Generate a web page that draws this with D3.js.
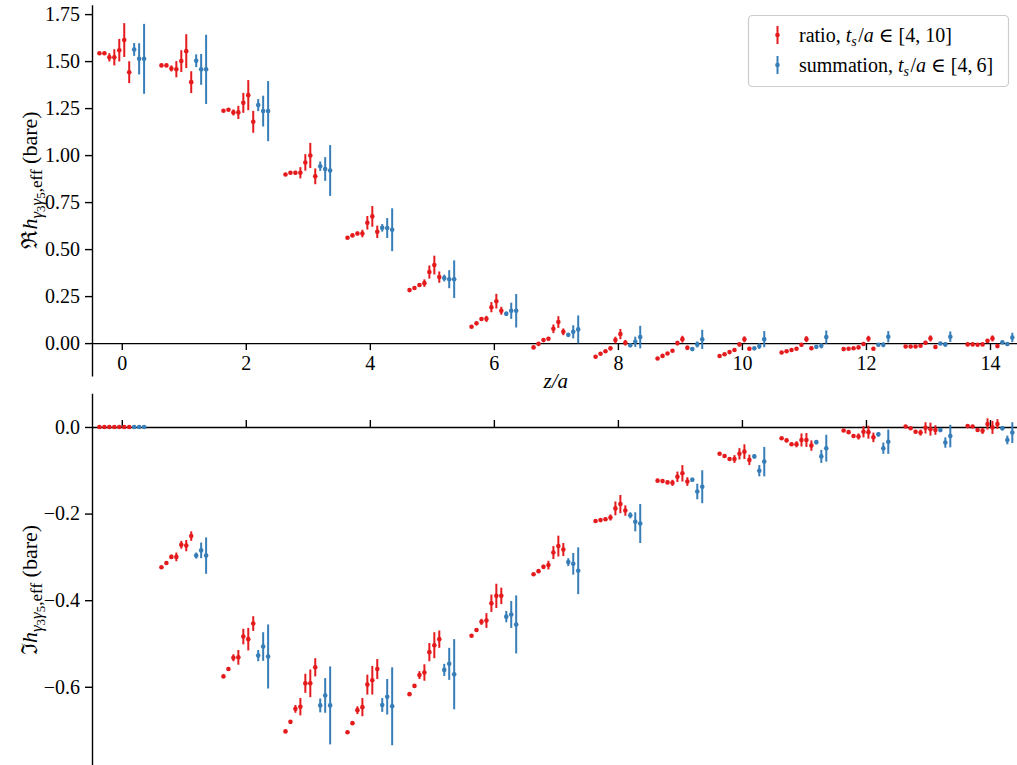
<!DOCTYPE html>
<html><head><meta charset="utf-8">
<script src="https://cdn.jsdelivr.net/npm/d3@7"></script>
<style>
body{margin:0;background:#fff}
text{font-family:"Liberation Serif","DejaVu Serif",serif;fill:#000}
</style>
</head><body>
<svg id="chart" width="1017" height="765"></svg>
<script>
// ---- data ----
const zValues = [0,1,2,3,4,5,6,7,8,9,10,11,12,13,14];
const ratioTs = [4,5,6,7,8,9,10];
const summationTs = [4,5,6];
const xTicks = [0,2,4,6,8,10,12,14];
const reTicks = [0,0.25,0.5,0.75,1.0,1.25,1.5,1.75];
const imTicks = [0,-0.2,-0.4,-0.6];

const reRatio = [
 [1.542,1.542,1.520,1.520,1.558,1.612,1.441],
 [1.477,1.477,1.461,1.457,1.500,1.553,1.388],
 [1.236,1.241,1.227,1.227,1.278,1.319,1.177],
 [0.897,0.906,0.906,0.906,0.961,0.998,0.887],
 [0.560,0.573,0.583,0.583,0.640,0.674,0.592],
 [0.282,0.293,0.309,0.319,0.378,0.415,0.351],
 [0.087,0.105,0.128,0.129,0.191,0.223,0.172],
 [-0.023,-0.004,0.016,0.023,0.076,0.112,0.060],
 [-0.073,-0.057,-0.043,-0.028,0.016,0.048,0.002],
 [-0.082,-0.068,-0.055,-0.041,0.000,0.021,-0.025],
 [-0.069,-0.059,-0.048,-0.037,-0.007,0.020,-0.030],
 [-0.050,-0.043,-0.037,-0.030,-0.009,0.021,-0.027],
 [-0.032,-0.030,-0.027,-0.023,-0.005,0.023,-0.030],
 [-0.018,-0.018,-0.018,-0.014,0.002,0.025,-0.021],
 [-0.007,-0.007,-0.009,-0.007,0.012,0.025,-0.016]
];
const reRatioErr = [
 [0.004,0.005,0.022,0.043,0.060,0.090,0.058],
 [0.004,0.005,0.016,0.043,0.058,0.090,0.058],
 [0.004,0.005,0.016,0.035,0.053,0.080,0.058],
 [0.004,0.005,0.010,0.030,0.044,0.067,0.042],
 [0.004,0.004,0.010,0.020,0.036,0.055,0.033],
 [0.003,0.004,0.010,0.020,0.035,0.050,0.030],
 [0.003,0.004,0.010,0.016,0.027,0.039,0.021],
 [0.003,0.003,0.006,0.010,0.023,0.031,0.018],
 [0.003,0.003,0.005,0.010,0.018,0.027,0.015],
 [0.003,0.003,0.004,0.006,0.012,0.018,0.012],
 [0.003,0.003,0.004,0.005,0.010,0.016,0.010],
 [0.003,0.003,0.004,0.005,0.010,0.016,0.010],
 [0.003,0.003,0.004,0.005,0.010,0.016,0.010],
 [0.003,0.003,0.004,0.005,0.010,0.016,0.010],
 [0.003,0.003,0.004,0.005,0.010,0.016,0.010]
];
const reSum = [
 [1.562,1.512,1.512],[1.502,1.456,1.456],[1.266,1.234,1.234],[0.941,0.926,0.918],
 [0.613,0.612,0.603],[0.346,0.340,0.340],[0.156,0.172,0.172],[0.044,0.060,0.073],
 [-0.012,0.007,0.032],[-0.032,-0.007,0.020],[-0.028,-0.016,0.021],[-0.020,-0.014,0.032],
 [-0.009,-0.009,0.034],[-0.002,-0.007,0.034],[0.004,-0.005,0.030]
];
const reSumErr = [
 [0.034,0.083,0.186],[0.034,0.082,0.184],[0.032,0.082,0.160],[0.025,0.063,0.135],
 [0.020,0.053,0.114],[0.018,0.048,0.100],[0.012,0.043,0.089],[0.010,0.035,0.074],
 [0.008,0.027,0.060],[0.005,0.016,0.051],[0.005,0.015,0.043],[0.005,0.014,0.035],
 [0.004,0.013,0.030],[0.004,0.012,0.028],[0.004,0.011,0.025]
];
const imRatio = [
 [0,0,0,0,0,0,0],
 [-0.324,-0.314,-0.300,-0.300,-0.272,-0.274,-0.252],
 [-0.576,-0.559,-0.533,-0.532,-0.484,-0.490,-0.454],
 [-0.703,-0.681,-0.651,-0.646,-0.592,-0.592,-0.555],
 [-0.705,-0.684,-0.654,-0.647,-0.595,-0.585,-0.559],
 [-0.617,-0.598,-0.573,-0.567,-0.520,-0.504,-0.490],
 [-0.482,-0.469,-0.450,-0.447,-0.407,-0.390,-0.390],
 [-0.340,-0.333,-0.323,-0.319,-0.290,-0.275,-0.283],
 [-0.217,-0.215,-0.213,-0.209,-0.188,-0.178,-0.193],
 [-0.124,-0.125,-0.128,-0.129,-0.115,-0.107,-0.126],
 [-0.062,-0.067,-0.074,-0.074,-0.062,-0.057,-0.076],
 [-0.026,-0.031,-0.040,-0.040,-0.030,-0.030,-0.043],
 [-0.008,-0.012,-0.021,-0.022,-0.011,-0.012,-0.024],
 [0.001,-0.003,-0.011,-0.013,-0.002,-0.005,-0.007],
 [0.002,0.001,-0.007,-0.009,0.007,-0.001,0.007]
];
const imRatioErr = [
 [0.001,0.001,0.001,0.001,0.002,0.002,0.002],
 [0.002,0.003,0.005,0.010,0.009,0.013,0.011],
 [0.003,0.004,0.008,0.017,0.018,0.026,0.017],
 [0.003,0.004,0.009,0.020,0.022,0.032,0.021],
 [0.003,0.004,0.009,0.021,0.023,0.033,0.023],
 [0.003,0.004,0.009,0.019,0.021,0.030,0.020],
 [0.003,0.004,0.007,0.017,0.020,0.028,0.019],
 [0.002,0.003,0.005,0.010,0.015,0.024,0.015],
 [0.002,0.002,0.004,0.007,0.016,0.021,0.012],
 [0.002,0.002,0.004,0.007,0.012,0.019,0.010],
 [0.002,0.002,0.004,0.009,0.013,0.017,0.012],
 [0.002,0.002,0.004,0.007,0.015,0.016,0.012],
 [0.002,0.002,0.004,0.007,0.013,0.015,0.011],
 [0.002,0.002,0.004,0.007,0.013,0.015,0.011],
 [0.002,0.002,0.004,0.007,0.013,0.015,0.011]
];
const imSum = [
 [0,0,0],[-0.297,-0.285,-0.297],[-0.528,-0.507,-0.530],[-0.643,-0.620,-0.643],
 [-0.642,-0.623,-0.645],[-0.561,-0.547,-0.571],[-0.438,-0.433,-0.456],[-0.312,-0.316,-0.332],
 [-0.204,-0.219,-0.223],[-0.122,-0.149,-0.138],[-0.068,-0.101,-0.080],[-0.035,-0.068,-0.049],
 [-0.017,-0.049,-0.034],[-0.007,-0.036,-0.021],[-0.003,-0.030,-0.013]
];
const imSumErr = [
 [0.001,0.002,0.002],[0.007,0.018,0.042],[0.013,0.033,0.074],[0.016,0.040,0.090],
 [0.016,0.041,0.090],[0.014,0.037,0.081],[0.013,0.031,0.067],[0.009,0.025,0.054],
 [0.007,0.022,0.045],[0.005,0.018,0.038],[0.005,0.013,0.034],[0.005,0.015,0.031],
 [0.005,0.013,0.028],[0.005,0.012,0.026],[0.005,0.010,0.024]
];

const RED = "#e41a1c", BLUE = "#377eb8";
const FONT = '"Liberation Serif","DejaVu Serif",serif';

// ---- layout ----
const svg = d3.select("#chart");
const x = d3.scaleLinear().domain([-0.48, 14.5]).range([92, 1021]);
const yTop = d3.scaleLinear().domain([-0.175, 1.80]).range([376, 4.7]);
const yBot = d3.scaleLinear().domain([-0.782, 0.078]).range([765.6, 393.2]);
const spacing = 0.08; // horizontal shift between successive t_s within one z

function points(vals, errs, nOff) {
  const out = [];
  vals.forEach((row, zi) => row.forEach((v, k) => {
    out.push({x: zValues[zi] + (k + nOff - 4.5) * spacing, v, e: errs[zi][k]});
  }));
  return out;
}

function drawSeries(g, y, data, color) {
  const s = g.append("g");
  s.selectAll("line").data(data).join("line")
    .attr("x1", d => x(d.x)).attr("x2", d => x(d.x))
    .attr("y1", d => y(d.v - d.e)).attr("y2", d => y(d.v + d.e))
    .attr("stroke", color).attr("stroke-width", 2);
  s.selectAll("circle").data(data).join("circle")
    .attr("cx", d => x(d.x)).attr("cy", d => y(d.v)).attr("r", 2.3)
    .attr("fill", color);
}

function styleAxis(g) {
  g.attr("font-family", FONT).attr("font-size", 20);
  g.selectAll("path.domain").attr("stroke", "#000").attr("stroke-width", 1.4);
  g.selectAll(".tick line").attr("stroke", "#000").attr("stroke-width", 1.4);
  g.selectAll(".tick text").attr("font-family", FONT).style("font-family", FONT).style("font-size", "20px").attr("fill", "#000");
}

// ---- top panel ----
const gTop = svg.append("g");
gTop.append("g").attr("transform", `translate(92,0)`)
  .call(d3.axisLeft(yTop).tickValues(reTicks).tickFormat(d3.format(".2f")).tickSize(7).tickSizeOuter(0).tickPadding(5))
  .call(styleAxis);
gTop.append("g").attr("transform", `translate(0,${yTop(0)})`)
  .call(d3.axisBottom(x).tickValues(xTicks).tickFormat(d3.format("d")).tickSize(7).tickSizeOuter(0).tickPadding(6))
  .call(styleAxis);
drawSeries(gTop, yTop, points(reRatio, reRatioErr, 0), RED);
drawSeries(gTop, yTop, points(reSum, reSumErr, 7), BLUE);

// ---- bottom panel ----
const gBot = svg.append("g");
gBot.append("g").attr("transform", `translate(92,0)`)
  .call(d3.axisLeft(yBot).tickValues(imTicks).tickFormat(d3.format(".1f")).tickSize(7).tickSizeOuter(0).tickPadding(5))
  .call(styleAxis);
gBot.append("g").attr("transform", `translate(0,${yBot(0)})`)
  .call(d3.axisTop(x).tickValues(xTicks).tickFormat("").tickSize(7).tickSizeOuter(0))
  .call(styleAxis);
drawSeries(gBot, yBot, points(imRatio, imRatioErr, 0), RED);
drawSeries(gBot, yBot, points(imSum, imSumErr, 7), BLUE);

// ---- axis labels ----
svg.append("text").attr("x", x(7)).attr("y", 388).attr("text-anchor", "middle")
  .style("font-size", "21px").style("font-style", "italic").text("z/a");

function yLabel(cy, sym) {
  const t = svg.append("text").attr("transform", `translate(37,${cy}) rotate(-90)`)
    .attr("text-anchor", "middle").style("font-size", "22px");
  t.append("tspan").text(sym);
  t.append("tspan").style("font-style", "italic").text("h");
  t.append("tspan").attr("dy", 5).style("font-size", "17px").style("font-style", "italic").text("γ");
  t.append("tspan").attr("dy", 3).style("font-size", "13px").text("3");
  t.append("tspan").attr("dy", -3).style("font-size", "17px").style("font-style", "italic").text("γ");
  t.append("tspan").attr("dy", 3).style("font-size", "13px").text("5");
  t.append("tspan").attr("dy", -3).style("font-size", "17px").text(",eff");
  t.append("tspan").attr("dy", -5).text(" (bare)");
}
yLabel(180, "ℜ");
yLabel(590, "ℑ");

// ---- legend ----
const lg = svg.append("g");
lg.append("rect").attr("x", 748.5).attr("y", 15.5).attr("width", 260).attr("height", 71)
  .attr("rx", 4).attr("fill", "#fff").attr("fill-opacity", 0.8).attr("stroke", "#cccccc").attr("stroke-width", 1.2);
const legendItems = [
  {color: RED, cy: 35, label: "ratio, ", range: " ∈ [4, 10]"},
  {color: BLUE, cy: 65, label: "summation, ", range: " ∈ [4,\u20096]"}
];
legendItems.forEach(it => {
  lg.append("line").attr("x1", 777.5).attr("x2", 777.5).attr("y1", it.cy - 9).attr("y2", it.cy + 9)
    .attr("stroke", it.color).attr("stroke-width", 2);
  lg.append("circle").attr("cx", 777.5).attr("cy", it.cy).attr("r", 2.3).attr("fill", it.color);
  const t = lg.append("text").attr("x", 799).attr("y", it.cy + 7).style("font-size", "20px");
  t.append("tspan").text(it.label);
  t.append("tspan").style("font-style", "italic").text("t");
  t.append("tspan").attr("dy", 4).style("font-size", "14px").style("font-style", "italic").text("s");
  t.append("tspan").attr("dy", -4).attr("dx", 1.5).text("/");
  t.append("tspan").style("font-style", "italic").text("a");
  t.append("tspan").text(it.range);
});
</script>
</body></html>
